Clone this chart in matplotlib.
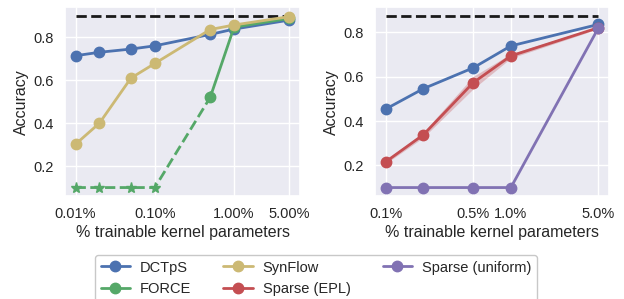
import numpy as np
import matplotlib
matplotlib.use("Agg")
import matplotlib.pyplot as plt
import seaborn as sns

sns.set_theme(style="darkgrid")
plt.rcParams['font.family'] = ['Liberation Sans', 'DejaVu Sans']

# left panel data (% of kernel params)
x_left = [0.01, 0.02, 0.05, 0.1, 0.5, 1.0, 5.0]
dctps_left = [0.714, 0.730, 0.745, 0.760, 0.813, 0.838, 0.880]
synflow_left = [0.302, 0.400, 0.610, 0.678, 0.836, 0.857, 0.896]
force_x_dashed = [0.01, 0.02, 0.05, 0.1, 0.5]
force_dashed = [0.10, 0.10, 0.10, 0.10, 0.52]
force_x_solid = [0.5, 1.0, 5.0]
force_solid = [0.52, 0.847, 0.888]
dense_left = 0.90
left_ticks = [0.01, 0.1, 1.0, 5.0]
left_ticklabels = ["0.01%", "0.10%", "1.00%", "5.00%"]

# right panel data
x_right = [0.1, 0.2, 0.5, 1.0, 5.0]
dctps_right = [0.454, 0.546, 0.640, 0.739, 0.836]
epl_right = [0.216, 0.338, 0.573, 0.694, 0.821]
epl_err = [0.008, 0.012, 0.028, 0.010, 0.005]
uniform_right = [0.10, 0.10, 0.10, 0.10, 0.82]
dense_right = 0.875
right_ticks = [0.1, 0.5, 1.0, 5.0]
right_ticklabels = ["0.1%", "0.5%", "1.0%", "5.0%"]

pal = sns.color_palette("deep")
c_blue, c_green, c_red, c_purple, c_yellow = pal[0], pal[2], pal[3], pal[4], pal[8]

fig = plt.figure(figsize=(6.24, 2.99), dpi=100)
ax1 = fig.add_axes([0.104, 0.344, 0.377, 0.632])
ax2 = fig.add_axes([0.601, 0.344, 0.375, 0.632])

lw, ms = 2, 7.5

ax1.plot([x_left[0], x_left[-1]], [dense_left] * 2, "k--", lw=2)
ax1.plot(x_left, dctps_left, "-o", color=c_blue, lw=lw, ms=ms, label="DCTpS")
ax1.plot(force_x_dashed, force_dashed, "--*", color=c_green, lw=lw, ms=8)
ax1.plot(force_x_solid, force_solid, "-o", color=c_green, lw=lw, ms=ms, label="FORCE")
ax1.plot(x_left, synflow_left, "-o", color=c_yellow, lw=lw, ms=ms, label="SynFlow")

ax2.plot([x_right[0], x_right[-1]], [dense_right] * 2, "k--", lw=2)
ax2.plot(x_right, dctps_right, "-o", color=c_blue, lw=lw, ms=ms)
lo = np.array(epl_right) - np.array(epl_err)
hi = np.array(epl_right) + np.array(epl_err)
ax2.fill_between(x_right, lo, hi, color=c_red, alpha=0.3, lw=0)
ax2.plot(x_right, epl_right, "-o", color=c_red, lw=lw, ms=ms, label="Sparse (EPL)")
ax2.plot(x_right, uniform_right, "-o", color=c_purple, lw=lw, ms=ms, label="Sparse (uniform)")

for ax, ticks, labels in [(ax1, left_ticks, left_ticklabels), (ax2, right_ticks, right_ticklabels)]:
    ax.set_xscale("log")
    ax.set_xticks(ticks)
    ax.set_xticklabels(labels)
    ax.minorticks_off()
    ax.set_yticks([0.2, 0.4, 0.6, 0.8])
    ax.tick_params(labelsize=10.5, pad=2)
    ax.set_xlabel("% trainable kernel parameters", fontsize=11.5, labelpad=3)
    ax.set_ylabel("Accuracy", fontsize=11.5, labelpad=3)

h1, l1 = ax1.get_legend_handles_labels()
h2, l2 = ax2.get_legend_handles_labels()
handles = [h1[0], h1[1], h1[2], h2[0], h2[1]]
labels = [l1[0], l1[1], l1[2], l2[0], l2[1]]
fig.legend(handles, labels, ncol=3, loc="upper left", bbox_to_anchor=(0.152, 0.148),
           fontsize=10.5, frameon=True, edgecolor="#bbbbbb", facecolor="white",
           columnspacing=2.2, handlelength=2.0, handletextpad=0.7, borderaxespad=0)

fig.savefig("out.png", dpi=100)
